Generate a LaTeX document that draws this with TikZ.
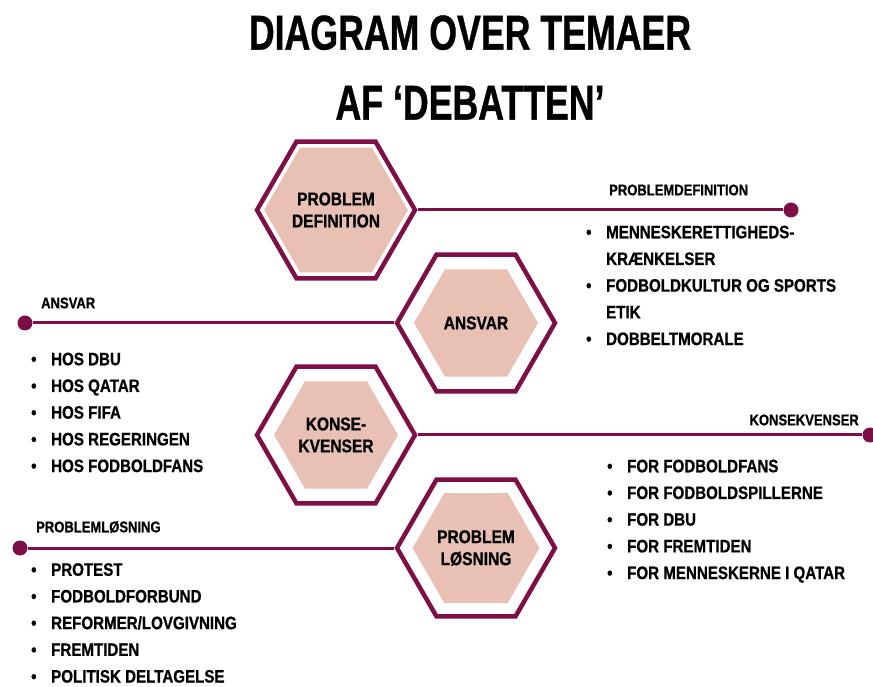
\documentclass[tikz,border=0pt]{standalone}
\usepackage{fontspec}
\setmainfont[FakeStretch=0.84, BoldFeatures={FakeBold=0.8}]{Liberation Sans}
\newfontfamily\titlefont[FakeStretch=0.73, BoldFeatures={FakeBold=0.8}]{Liberation Sans}
\usetikzlibrary{positioning,shapes.geometric}

\definecolor{maroon}{RGB}{125,15,70}
\definecolor{rose}{RGB}{232,192,180}

\newcommand{\itm}{\makebox[20pt][l]{\textbullet}}
\newcommand{\cont}{\hspace*{20pt}}

\tikzset{
  hexOuter/.style={regular polygon, regular polygon sides=6, draw=maroon,
    line width=4.5pt, minimum size=158pt, inner sep=0pt},
  hexInner/.style={regular polygon, regular polygon sides=6, fill=rose,
    minimum size=124pt, inner sep=0pt, align=center,
    font=\bfseries\fontsize{18.5}{22}\selectfont},
  bar/.style={draw=maroon, line width=3pt},
  endDot/.style={circle, fill=maroon, minimum size=15pt, inner sep=0pt},
  barLabel/.style={inner sep=0pt, font=\bfseries\fontsize{15.5}{18}\selectfont},
  itemList/.style={anchor=north west, align=left, inner sep=0pt,
    font=\bfseries\fontsize{18}{26.7}\selectfont},
}

\begin{document}
\begin{tikzpicture}[x=1pt, y=1pt]
  \useasboundingbox (0,0) rectangle (873,686);
  \node[align=center, font=\titlefont\bfseries\fontsize{48.9}{70}\selectfont] (title)
    at (470,618.5) {DIAGRAM OVER TEMAER\\AF ‘DEBATTEN’};

  \node[hexOuter] (problemDef) at (336,476) {};
  \node[hexInner] (problemDefCore) at (problemDef) {PROBLEM\\DEFINITION};
  \node[hexOuter] (ansvar) at (476,363) {};
  \node[hexInner] (ansvarCore) at (ansvar) {ANSVAR};
  \node[hexOuter] (konsekvens) at (336,251) {};
  \node[hexInner] (konsekvensCore) at (konsekvens) {KONSE-\\KVENSER};
  \node[hexOuter] (problemLos) at (476,138) {};
  \node[hexInner] (problemLosCore) at (problemLos) {PROBLEM\\LØSNING};

  \node[endDot] (problemDefDot) at (791,476) {};
  \node[endDot] (ansvarDot) at (25,363) {};
  \node[endDot] (konsekvensDot) at (870,251) {};
  \node[endDot] (problemLosDot) at (20,138) {};
  \draw[bar] (problemDef.east) -- (problemDefDot);
  \draw[bar] (ansvarDot) -- (ansvar.west);
  \draw[bar] (konsekvens.east) -- (konsekvensDot);
  \draw[bar] (problemLosDot) -- (problemLos.west);

  \node[barLabel, anchor=west] (problemDefLabel) at (609,496) {PROBLEMDEFINITION};
  \node[barLabel, anchor=west] (ansvarLabel) at (41,383) {ANSVAR};
  \node[barLabel, anchor=east] (konsekvensLabel) at (859,266) {KONSEKVENSER};
  \node[barLabel, anchor=west] (problemLosLabel) at (36,159) {PROBLEMLØSNING};

  \node[itemList] (problemDefList) at (586,460.5)
    {\itm MENNESKERETTIGHEDS-\\\cont KRÆNKELSER\\\itm FODBOLDKULTUR OG SPORTS\\
     \cont ETIK\\\itm DOBBELTMORALE};
  \node[itemList] (ansvarList) at (31,333.5)
    {\itm HOS DBU\\\itm HOS QATAR\\\itm HOS FIFA\\\itm HOS REGERINGEN\\
     \itm HOS FODBOLDFANS};
  \node[itemList] (konsekvensList) at (607,226.5)
    {\itm FOR FODBOLDFANS\\\itm FOR FODBOLDSPILLERNE\\\itm FOR DBU\\
     \itm FOR FREMTIDEN\\\itm FOR MENNESKERNE I QATAR};
  \node[itemList] (problemLosList) at (31,123)
    {\itm PROTEST\\\itm FODBOLDFORBUND\\\itm REFORMER/LOVGIVNING\\
     \itm FREMTIDEN\\\itm POLITISK DELTAGELSE};
\end{tikzpicture}
\end{document}
